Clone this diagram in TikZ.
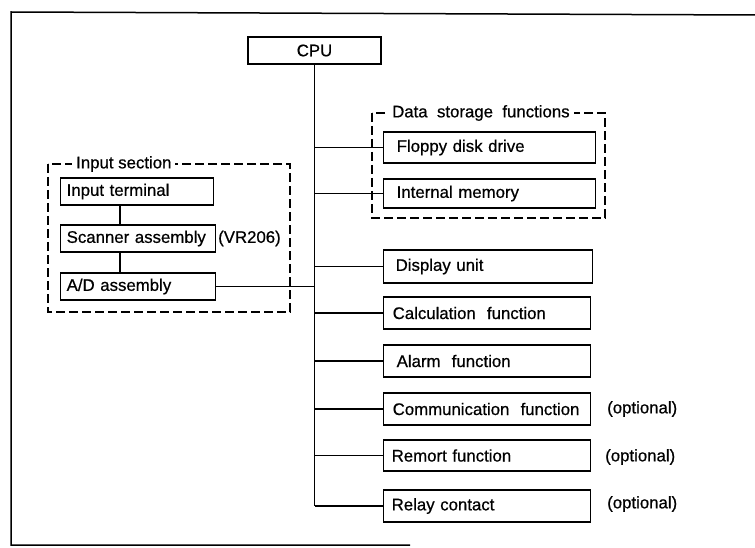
\documentclass[tikz,border=0pt]{standalone}
\usepackage{fontspec}
\setmainfont{Liberation Sans}[FakeBold=0.6]
\begin{document}
\begin{tikzpicture}[x=1pt,y=-1pt,
  every node/.style={font=\fontsize{16.8}{19}\selectfont},
  bx/.style={draw, line width=1.4pt, anchor=west, inner xsep=#1, inner ysep=0pt, align=left},
  ln/.style={line width=1.3pt},
  dsh/.style={line width=1.2pt, dash pattern=on 9pt off 4pt},
  ttl/.style={fill=white, inner xsep=4pt, inner ysep=1pt, anchor=west}]
\useasboundingbox (0,0) rectangle (755,548);
% frame
\draw[line width=1.5pt] (410,545) -- (11,545) -- (11,12) -- (755,15);
% CPU
\node[draw, line width=1.4pt, minimum width=133pt, minimum height=27pt, inner sep=0pt] (cpu) at (314.5,50.5) {CPU};
% data storage group
\draw[dsh] (372,113) rectangle (605,218);
\node[ttl] (dstitle) at (388,113) {Data\ \ storage\ \ functions};
\node[bx=13pt, text width=186pt, minimum height=31pt] (floppy) at (383,147.5) {Floppy disk drive};
\node[bx=13pt, text width=186pt, minimum height=29pt] (intmem) at (383,193.5) {Internal memory};
% right column
\node[bx=12pt, text width=185pt, minimum height=33pt] (disp) at (383,266.5) {Display unit};
\node[bx=9pt, text width=189pt, minimum height=32pt] (calc) at (383,313) {Calculation\ \ function};
\node[bx=13pt, text width=181pt, minimum height=32pt] (alarm) at (383,361) {Alarm\ \ function};
\node[bx=9pt, text width=189pt, minimum height=32pt] (comm) at (383,409) {Communication\ \ function};
\node[bx=8pt, text width=191pt, minimum height=31pt] (remort) at (383,455.5) {Remort function};
\node[bx=8pt, text width=191pt, minimum height=32pt] (relay) at (383,506) {Relay contact};
\node[anchor=west, inner sep=0pt] (opt1) at (607,409) {(optional)};
\node[anchor=west, inner sep=0pt] (opt2) at (605,457) {(optional)};
\node[anchor=west, inner sep=0pt] (opt3) at (607,504) {(optional)};
% input section
\draw[dsh] (48,164) rectangle (290,312);
\node[ttl] (intitle) at (72,164) {Input section};
\node[bx=6pt, text width=141pt, minimum height=27pt] (interm) at (60,191.5) {Input terminal};
\node[bx=6pt, text width=143pt, minimum height=27pt] (scan) at (60,238.5) {Scanner assembly};
\node[anchor=west, inner sep=0pt] (vr) at (218,238.5) {(VR206)};
\node[bx=6pt, text width=143pt, minimum height=27pt] (ad) at (60,286.5) {A/D assembly};
% connectors
\coordinate (trunkend) at (cpu.south |- relay.west);
\draw[ln] (cpu.south) -- (trunkend);
\foreach \n in {floppy,intmem,disp,calc,alarm,comm,remort,relay}
  \draw[ln] (\n.west) -- (\n.west -| cpu.south);
\draw[ln] (ad.east) -- (ad.east -| cpu.south);
\draw[ln] (interm.south -| 120,0) -- (scan.north -| 120,0);
\draw[ln] (scan.south -| 120,0) -- (ad.north -| 120,0);
\end{tikzpicture}
\end{document}
